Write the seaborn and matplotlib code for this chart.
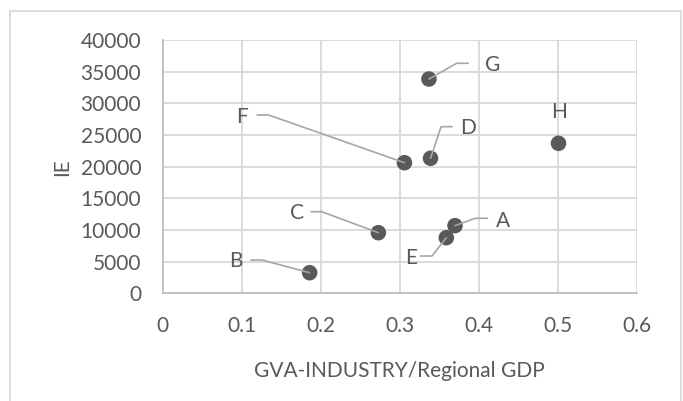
import matplotlib
matplotlib.use("Agg")
import matplotlib.pyplot as plt
from matplotlib.lines import Line2D
import seaborn as sns
import pandas as pd

# Regional data: share of industry in gross value added vs. IE
regions = ["A", "B", "C", "D", "E", "F", "G", "H"]
gva_share = [0.370, 0.186, 0.273, 0.339, 0.359, 0.306, 0.337, 0.501]
ie_values = [10680, 3250, 9570, 21320, 8780, 20620, 33840, 23690]

x_ticks = [0, 0.1, 0.2, 0.3, 0.4, 0.5, 0.6]
x_tick_labels = ["0", "0.1", "0.2", "0.3", "0.4", "0.5", "0.6"]
y_ticks = [0, 5000, 10000, 15000, 20000, 25000, 30000, 35000, 40000]
y_tick_labels = [str(v) for v in y_ticks]

x_title = "GVA-INDUSTRY/Regional GDP"
y_title = "IE"

# Data-label placement in pixels relative to each point (right/up positive):
# (label centre, leader end next to label, leader elbow)
label_layout = {
    "A": ((48, 4.7), (32.6, 7.4), (20.3, 7.4)),
    "B": ((-73.6, 11.7), (-58.6, 12.7), (-47.6, 12.7)),
    "C": ((-81.6, 19.4), (-67.3, 21), (-56.6, 21)),
    "D": ((37.6, 30), (21.6, 31.6), (10.6, 31.6)),
    "E": ((-35.3, -20.6), (-26, -18.3), (-14.3, -18.3)),
    "F": ((-162.3, 46), (-147.3, 47.7), (-135.7, 47.7)),
    "G": ((63.3, 14), (39.3, 15.7), (27.7, 15.7)),
    "H": ((0.7, 31.6), None, None),
}

df = pd.DataFrame({"region": regions, "gva": gva_share, "ie": ie_values})

sns.set_style("white")
plt.rcParams["font.family"] = ["Lato", "DejaVu Sans"]

text_color = "#595959"
grid_color = "#d9d9d9"
leader_color = "#a6a6a6"
marker_color = "#595959"
font_size = 15

fig = plt.figure(figsize=(6.83, 4.01), dpi=100)
ax = fig.add_axes([162.7 / 683, 1 - 293.3 / 401, 474.0 / 683, 253.3 / 401])

sns.scatterplot(data=df, x="gva", y="ie", ax=ax, s=125, color=marker_color,
                edgecolor="none", linewidth=0, zorder=3, legend=False)

ax.set_xlim(0, 0.6)
ax.set_ylim(0, 40000)
ax.set_xticks(x_ticks)
ax.set_xticklabels(x_tick_labels)
ax.set_yticks(y_ticks)
ax.set_yticklabels(y_tick_labels)
ax.tick_params(axis="both", length=0, labelsize=font_size, labelcolor=text_color)
ax.tick_params(axis="x", pad=16)
ax.tick_params(axis="y", pad=15.5)

ax.grid(True, color=grid_color, linewidth=1.3, zorder=0)
ax.set_axisbelow(True)
for side in ["top", "right"]:
    ax.spines[side].set_visible(False)
for side in ["left", "bottom"]:
    ax.spines[side].set_color("#bfbfbf")
    ax.spines[side].set_linewidth(1.3)

ax.set_xlabel(x_title, fontsize=font_size, color=text_color, labelpad=18)
ax.set_ylabel(y_title, fontsize=font_size, color=text_color, labelpad=6)

# Data labels with leader lines, positioned in pixel space
fig.canvas.draw()
to_disp = ax.transData
to_data = ax.transData.inverted()
for name, gx, gy in zip(regions, gva_share, ie_values):
    px, py = to_disp.transform((gx, gy))
    (lx, ly), near, elbow = label_layout[name]
    tx, ty = to_data.transform((px + lx, py + ly))
    ax.text(tx, ty, name, ha="center", va="center", fontsize=font_size,
            color=text_color, zorder=5)
    if near is not None:
        pts = [(px + near[0], py + near[1]), (px + elbow[0], py + elbow[1]), (px, py)]
        data_pts = [to_data.transform(p) for p in pts]
        ax.add_line(Line2D([p[0] for p in data_pts], [p[1] for p in data_pts],
                           color=leader_color, linewidth=1.2, zorder=4,
                           clip_on=False))

# Chart-area border
border_kw = dict(color=grid_color, linewidth=1.3, transform=fig.transFigure)
fig.add_artist(Line2D([9.5 / 683, 9.5 / 683], [0, 1 - 11 / 401], **border_kw))
fig.add_artist(Line2D([9.5 / 683, 681 / 683], [1 - 11 / 401, 1 - 11 / 401], **border_kw))
fig.add_artist(Line2D([681 / 683, 681 / 683], [0, 1 - 11 / 401], **border_kw))

fig.savefig("out.png", dpi=100)
